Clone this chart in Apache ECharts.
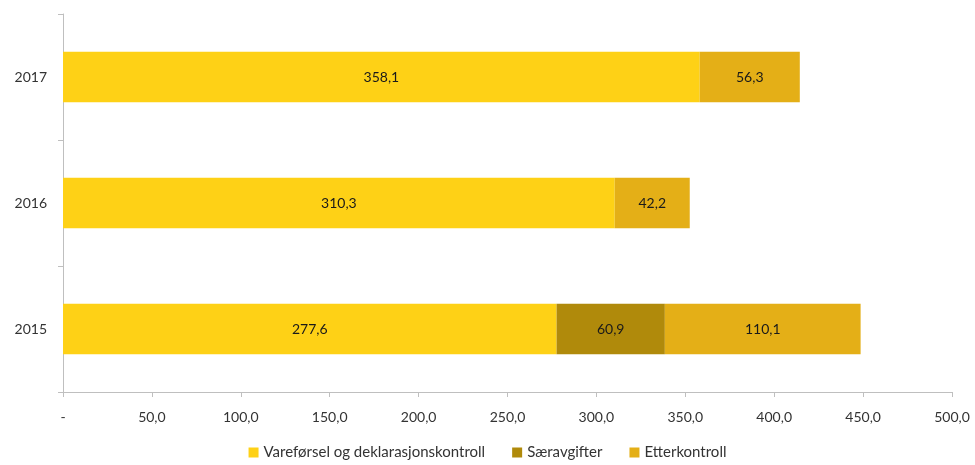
<!DOCTYPE html>
<html>
<head>
<meta charset="utf-8">
<script src="https://cdn.jsdelivr.net/npm/echarts@6/dist/echarts.min.js"></script>
<style>html,body{margin:0;padding:0;background:#fff}#c{width:975px;height:465px}</style>
</head>
<body>
<div id="c"></div>
<script>
const categories = ['2015', '2016', '2017'];
const vareforsel = [277.6, 310.3, 358.1];
const saeravgifter = [60.9, null, null];
const etterkontroll = [110.1, 42.2, 56.3];
const xTicks = ['-', '50,0', '100,0', '150,0', '200,0', '250,0', '300,0', '350,0', '400,0', '450,0', '500,0'];

const fmt = p => p.value == null ? '' : p.value.toFixed(1).replace('.', ',');
const font = 'Lato, "Open Sans", sans-serif';
const lbl = {show: true, position: 'inside', color: '#1a1a1a', fontSize: 14, fontFamily: font, formatter: fmt};

const chart = echarts.init(document.getElementById('c'), null, {renderer: 'canvas'});
chart.setOption({
  animation: false,
  textStyle: {fontFamily: font},
  grid: {left: 63, right: 23, top: 14, bottom: 73, containLabel: false},
  legend: {
    bottom: 0, left: 'center', itemWidth: 10, itemHeight: 10, itemGap: 27,
    icon: 'rect',
    textStyle: {fontSize: 15, color: '#333', fontFamily: font}
  },
  xAxis: {
    type: 'value', min: 0, max: 500, interval: 50,
    axisLine: {show: true, lineStyle: {color: '#bfbfbf'}},
    axisTick: {show: true, length: 5, lineStyle: {color: '#bfbfbf'}},
    splitLine: {show: false},
    axisLabel: {fontSize: 14, color: '#333', margin: 18, fontFamily: font,
      formatter: (v) => xTicks[Math.round(v / 50)]}
  },
  yAxis: {
    type: 'category', data: categories,
    axisLine: {show: true, lineStyle: {color: '#bfbfbf'}},
    axisTick: {show: true, length: 5, lineStyle: {color: '#bfbfbf'}},
    axisLabel: {fontSize: 14, color: '#333', margin: 16, fontFamily: font}
  },
  series: [
    {name: 'Vareførsel og deklarasjonskontroll', type: 'bar', stack: 't', data: vareforsel,
      itemStyle: {color: '#fed116'}, label: lbl, barCategoryGap: '60%'},
    {name: 'Særavgifter', type: 'bar', stack: 't', data: saeravgifter,
      itemStyle: {color: '#b08a0b'}, label: lbl},
    {name: 'Etterkontroll', type: 'bar', stack: 't', data: etterkontroll,
      itemStyle: {color: '#e4af17'}, label: lbl}
  ]
});
</script>
</body>
</html>
